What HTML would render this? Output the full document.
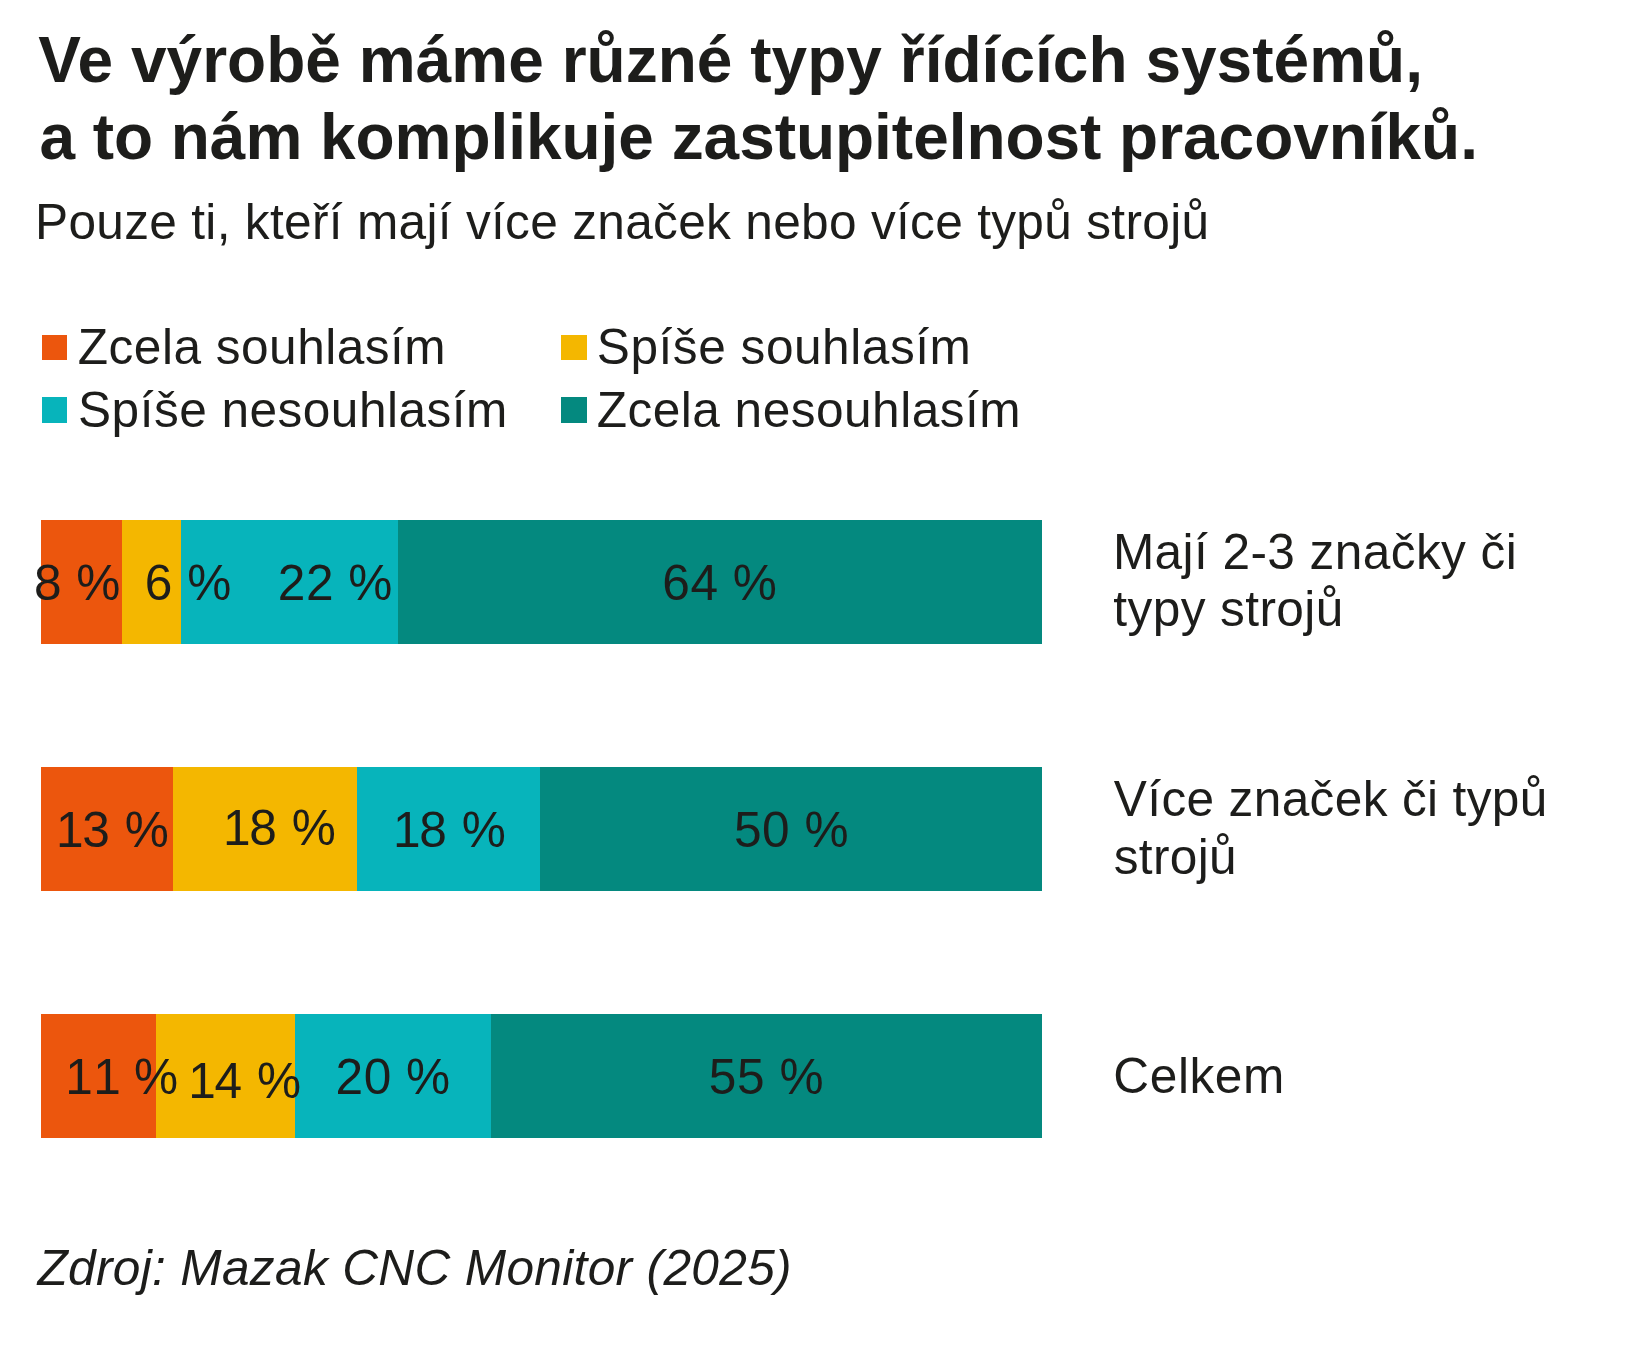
<!DOCTYPE html>
<html lang="cs">
<head>
<meta charset="utf-8">
<title>Ve výrobě máme různé typy řídících systémů</title>
<style>
html,body{margin:0;padding:0;background:#fff;}
body{width:1635px;height:1371px;overflow:hidden;}
svg{display:block;}
text{font-family:"Liberation Sans",Arial,Helvetica,sans-serif;fill:#1d1d1b;font-kerning:none;}
.title{font-weight:bold;font-size:64px;font-kerning:normal;}
.n{font-size:49.6px;}
.src{font-size:49.6px;font-style:italic;}
</style>
</head>
<body>
<svg width="1635" height="1371" viewBox="0 0 1635 1371">
<rect x="0" y="0" width="1635" height="1371" fill="#ffffff"/>
<!-- title -->
<text class="title" x="38.37" y="82.00" style="letter-spacing:0.023px">Ve výrobě máme různé typy řídících systémů,</text>
<text class="title" x="39.41" y="159.00" style="letter-spacing:-0.039px">a to nám komplikuje zastupitelnost pracovníků.</text>
<text class="n" x="35.00" y="238.70" style="letter-spacing:0.308px">Pouze ti, kteří mají více značek nebo více typů strojů</text>
<!-- legend -->
<rect x="42" y="335" width="25" height="25" fill="#ec560d"/>
<text class="n" x="77.75" y="364.00" style="letter-spacing:0.487px">Zcela souhlasím</text>
<rect x="561" y="335" width="26" height="25" fill="#f4b700"/>
<text class="n" x="596.84" y="364.00" style="letter-spacing:0.526px">Spíše souhlasím</text>
<rect x="42" y="397" width="25" height="26" fill="#07b4bb"/>
<text class="n" x="78.06" y="426.60" style="letter-spacing:0.465px">Spíše nesouhlasím</text>
<rect x="561" y="397" width="26" height="26" fill="#04897f"/>
<text class="n" x="596.70" y="426.60" style="letter-spacing:0.476px">Zcela nesouhlasím</text>
<!-- bars -->
<rect x="41" y="520" width="81" height="124" fill="#ec560d"/>
<rect x="122" y="520" width="59" height="124" fill="#f4b700"/>
<rect x="181" y="520" width="217" height="124" fill="#07b4bb"/>
<rect x="398" y="520" width="644" height="124" fill="#04897f"/>
<rect x="41" y="767" width="132" height="124" fill="#ec560d"/>
<rect x="173" y="767" width="184" height="124" fill="#f4b700"/>
<rect x="357" y="767" width="183" height="124" fill="#07b4bb"/>
<rect x="540" y="767" width="502" height="124" fill="#04897f"/>
<rect x="41" y="1014" width="115" height="124" fill="#ec560d"/>
<rect x="156" y="1014" width="139" height="124" fill="#f4b700"/>
<rect x="295" y="1014" width="196" height="124" fill="#07b4bb"/>
<rect x="491" y="1014" width="551" height="124" fill="#04897f"/>
<!-- values -->
<text class="n" x="33.91" y="600.00" style="letter-spacing:0.550px">8 %</text>
<text class="n" x="144.69" y="600.00" style="letter-spacing:0.550px">6 %</text>
<text class="n" x="277.76" y="600.00" style="letter-spacing:0.550px">22 %</text>
<text class="n" x="662.27" y="600.00" style="letter-spacing:0.550px">64 %</text>
<text class="n" x="54.20" y="846.50" dx="1.8 -1.8" style="letter-spacing:0.550px">13 %</text>
<text class="n" x="221.20" y="844.60" dx="1.8 -1.8" style="letter-spacing:0.550px">18 %</text>
<text class="n" x="391.15" y="846.80" dx="1.8 -1.8" style="letter-spacing:0.550px">18 %</text>
<text class="n" x="733.92" y="846.60" style="letter-spacing:0.550px">50 %</text>
<text class="n" x="63.40" y="1094.00" dx="1.8 0 -1.8" style="letter-spacing:0.550px">11 %</text>
<text class="n" x="186.40" y="1098.00" dx="1.8 -1.8" style="letter-spacing:0.550px">14 %</text>
<text class="n" x="335.51" y="1094.00" style="letter-spacing:0.550px">20 %</text>
<text class="n" x="708.82" y="1094.00" style="letter-spacing:0.550px">55 %</text>
<!-- categories -->
<text class="n" x="1112.89" y="568.80" style="letter-spacing:0.412px">Mají 2-3 značky či</text>
<text class="n" x="1113.31" y="626.00" style="letter-spacing:0.396px">typy strojů</text>
<text class="n" x="1113.83" y="815.50" style="letter-spacing:0.346px">Více značek či typů</text>
<text class="n" x="1113.71" y="873.50" style="letter-spacing:0.340px">strojů</text>
<text class="n" x="1113.34" y="1092.80" style="letter-spacing:0.576px">Celkem</text>
<!-- source -->
<text class="src" x="37.42" y="1284.60" style="letter-spacing:0.336px">Zdroj: Mazak CNC Monitor (2025)</text>
</svg>
</body>
</html>
